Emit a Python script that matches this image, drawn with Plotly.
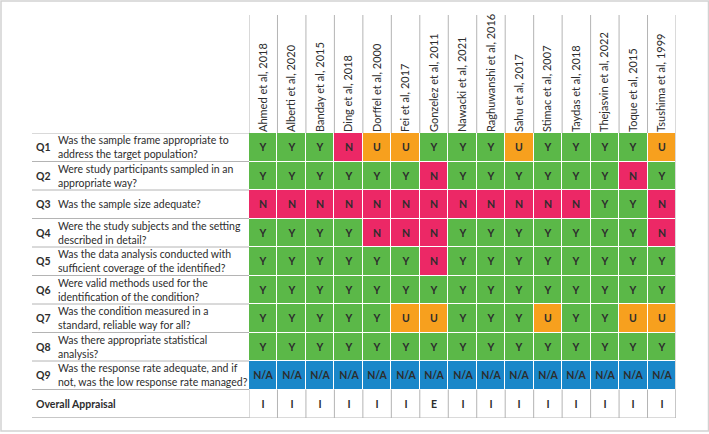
import plotly.graph_objects as go

studies = ["Ahmed et al, 2018", "Alberti et al, 2020", "Banday et al, 2015", "Ding et al, 2018",
           "Dorffel et al, 2000", "Fei et al, 2017", "Gonzelez et al, 2011", "Nawacki et al, 2021",
           "Raghuwanshi et al, 2016", "Sahu et al, 2017", "Stimac et al, 2007", "Taydas et al, 2018",
           "Thejasvin et al, 2022", "Toque et al, 2015", "Tsushima et al, 1999"]

q_codes = ["Q1", "Q2", "Q3", "Q4", "Q5", "Q6", "Q7", "Q8", "Q9", "Overall Appraisal"]
q_texts = [
    "Was the sample frame appropriate to<br>address the target population?",
    "Were study participants sampled in an<br>appropriate way?",
    "Was the sample size adequate?",
    "Were the study subjects and the setting<br>described in detail?",
    "Was the data analysis conducted with<br>sufficient coverage of the identified?",
    "Were valid methods used for the<br>identification of the condition?",
    "Was the condition measured in a<br>standard, reliable way for all?",
    "Was there appropriate statistical<br>analysis?",
    "Was the response rate adequate, and if<br>not, was the low response rate managed?",
    "",
]

answers = [
    ["Y", "Y", "Y", "N", "U", "U", "Y", "Y", "Y", "U", "Y", "Y", "Y", "Y", "U"],
    ["Y", "Y", "Y", "Y", "Y", "Y", "N", "Y", "Y", "Y", "Y", "Y", "Y", "N", "Y"],
    ["N", "N", "N", "N", "N", "N", "N", "N", "N", "N", "N", "N", "Y", "Y", "N"],
    ["Y", "Y", "Y", "Y", "N", "N", "N", "Y", "Y", "Y", "Y", "Y", "Y", "Y", "N"],
    ["Y", "Y", "Y", "Y", "Y", "Y", "N", "Y", "Y", "Y", "Y", "Y", "Y", "Y", "Y"],
    ["Y", "Y", "Y", "Y", "Y", "Y", "Y", "Y", "Y", "Y", "Y", "Y", "Y", "Y", "Y"],
    ["Y", "Y", "Y", "Y", "Y", "U", "U", "Y", "Y", "Y", "U", "Y", "Y", "U", "U"],
    ["Y", "Y", "Y", "Y", "Y", "Y", "Y", "Y", "Y", "Y", "Y", "Y", "Y", "Y", "Y"],
    ["N/A"] * 15,
    ["I", "I", "I", "I", "I", "I", "E", "I", "I", "I", "I", "I", "I", "I", "I"],
]

code_map = {"Y": 0, "N": 1, "U": 2, "N/A": 3, "I": 4, "E": 4}
GREEN, RED, ORANGE, BLUE, WHITE = "#5bb848", "#ec2866", "#f7a01e", "#1a87c9", "#ffffff"
colorscale = [[0, GREEN], [0.125, GREEN], [0.125, RED], [0.375, RED], [0.375, ORANGE],
              [0.625, ORANGE], [0.625, BLUE], [0.875, BLUE], [0.875, WHITE], [1, WHITE]]

z = [[code_map[a] for a in row] for row in answers]
nx, ny = len(studies), len(q_codes)

FONT = "Lato"
TXT = "#2d2d2d"
LINE = "#b4b4b4"

W, H = 709, 434
L, R, T, B = 249, 33, 133, 16
pw, ph = W - L - R, H - T - B

def px_to_paper_x(px):
    return (px - L) / pw

def px_to_paper_y(py):
    return (H - B - py) / ph

fig = go.Figure(go.Heatmap(
    z=z, x=list(range(nx)), y=list(range(ny)),
    text=answers, texttemplate="<b>%{text}</b>",
    textfont=dict(family=FONT, size=10.5, color=TXT),
    colorscale=colorscale, zmin=0, zmax=4, showscale=False,
    xgap=1, ygap=1, hoverinfo="skip",
))

shapes = []
head_top = px_to_paper_y(15)
for k in range(nx + 1):
    xb = k - 0.5
    shapes.append(dict(type="line", xref="x", yref="paper", x0=xb, x1=xb, y0=1, y1=head_top,
                       line=dict(color=LINE, width=1)))
    shapes.append(dict(type="line", xref="x", yref="y", x0=xb, x1=xb, y0=ny - 1.5, y1=ny - 0.5,
                       line=dict(color=LINE, width=1)))
shapes.append(dict(type="line", xref="x", yref="paper", x0=nx - 0.5, x1=nx - 0.5, y0=0, y1=1,
                   line=dict(color=LINE, width=1)))
lab_left = px_to_paper_x(32)
for k in range(ny + 1):
    yb = k - 0.5
    shapes.append(dict(type="line", xref="paper", yref="y", x0=lab_left, x1=0, y0=yb, y1=yb,
                       line=dict(color=LINE, width=1)))
shapes.append(dict(type="line", xref="paper", yref="y", x0=lab_left, x1=1, y0=ny - 0.5, y1=ny - 0.5,
                   line=dict(color=LINE, width=1)))
# outer frame
fx0, fx1 = px_to_paper_x(1), px_to_paper_x(708.5)
fy0, fy1 = px_to_paper_y(431), px_to_paper_y(1)
shapes.append(dict(type="rect", xref="paper", yref="paper", x0=fx0, x1=fx1, y0=fy0, y1=fy1,
                   line=dict(color="#d2d2d2", width=1.5)))

annotations = []
for i, (qc, qt) in enumerate(zip(q_codes, q_texts)):
    annotations.append(dict(xref="paper", yref="y", x=px_to_paper_x(34), y=i, xanchor="left",
                            yanchor="middle", showarrow=False, text="<b>" + qc + "</b>",
                            font=dict(family=FONT, size=10.5, color=TXT)))
    if qt:
        annotations.append(dict(xref="paper", yref="y", x=px_to_paper_x(56), y=i, xanchor="left",
                                yanchor="middle", showarrow=False, text=qt, align="left",
                                font=dict(family=FONT, size=10.5, color=TXT)))

fig.update_layout(
    width=W, height=H,
    margin=dict(l=L, r=R, t=T, b=B, pad=0),
    paper_bgcolor="white", plot_bgcolor="white",
    shapes=shapes, annotations=annotations,
    xaxis=dict(range=[-0.5, nx - 0.5], side="top", tickmode="array", tickvals=list(range(nx)),
               ticktext=studies, tickangle=-90, ticks="", showgrid=False, zeroline=False,
               showline=False, tickfont=dict(family=FONT, size=11, color=TXT), fixedrange=True,
               automargin=False),
    yaxis=dict(range=[ny - 0.5, -0.5], showticklabels=False, ticks="", showgrid=False,
               zeroline=False, showline=False, fixedrange=True, automargin=False),
    showlegend=False,
)

fig.write_html("out.html", config={"displayModeBar": False},
               post_script="document.body.style.margin='0';")
